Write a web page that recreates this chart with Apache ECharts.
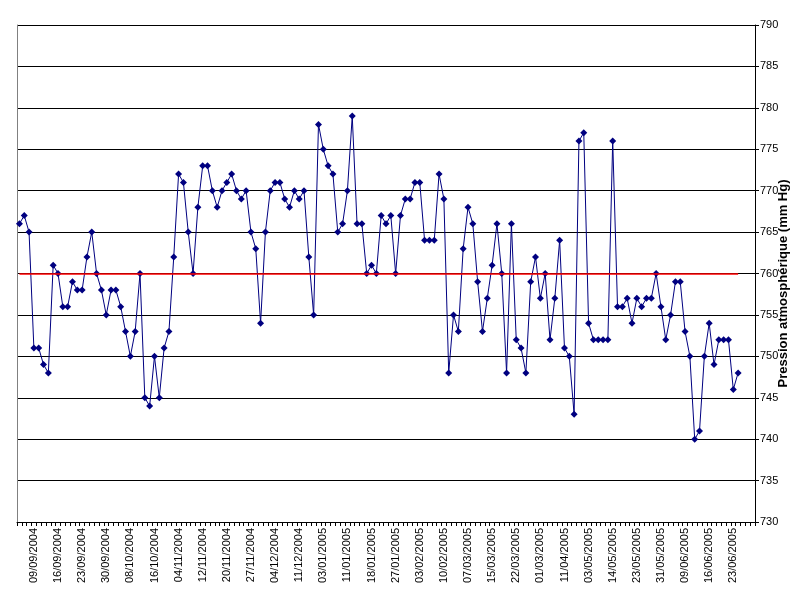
<!DOCTYPE html>
<html><head><meta charset="utf-8">
<script src="https://cdn.jsdelivr.net/npm/echarts@6/dist/echarts.min.js"></script>
<style>html,body{margin:0;padding:0;background:#fff}#c{width:800px;height:600px}</style>
</head><body><div id="c"></div>
<script>
const tickLabels = ['09/09/2004','16/09/2004','23/09/2004','30/09/2004','08/10/2004','16/10/2004','04/11/2004','12/11/2004','20/11/2004','27/11/2004','04/12/2004','11/12/2004','03/01/2005','11/01/2005','18/01/2005','27/01/2005','03/02/2005','10/02/2005','07/03/2005','15/03/2005','22/03/2005','01/03/2005','11/04/2005','03/05/2005','14/05/2005','23/05/2005','31/05/2005','09/06/2005','16/06/2005','23/06/2005'];
const pressure = [766,767,765,751,751,749,748,761,760,756,756,759,758,758,762,765,760,758,755,758,758,756,753,750,753,760,745,744,750,745,751,753,762,772,771,765,760,
768,773,773,770,768,770,771,772,770,769,770,765,763,754,765,770,771,771,769,768,770,769,770,762,755,778,775,773,772,765,766,770,779,766,766,760,761,
760,767,766,767,760,767,769,769,771,771,764,764,764,772,769,748,755,753,763,768,766,759,753,757,761,766,760,748,766,752,751,748,759,762,757,760,752,757,764,
751,750,743,776,777,754,752,752,752,752,776,756,756,757,754,757,756,757,757,760,756,752,755,759,759,753,750,740,741,750,754,749,752,752,752,746,748];
const categoryCount = 153;
const labelStart = 3, labelStep = 5;
const referenceValue = 760;
const yMin = 730, yMax = 790, yStep = 5;

const categories = [];
for (let i = 0; i < categoryCount; i++) {
  const k = (i - labelStart) / labelStep;
  categories.push(Number.isInteger(k) && k >= 0 && k < tickLabels.length ? tickLabels[k] : '');
}

const chart = echarts.init(document.getElementById('c'), null, {renderer: 'canvas'});
chart.setOption({
  animation: false,
  backgroundColor: '#fff',
  grid: {left: 17, right: 45, top: 25, bottom: 78, containLabel: false, outerBoundsMode: 'none'},
  xAxis: {
    type: 'category',
    data: categories,
    boundaryGap: true,
    axisLine: {lineStyle: {color: '#000', width: 1}},
    axisTick: {show: true, interval: 0, length: 4, lineStyle: {color: '#000'}},
    axisLabel: {interval: 0, rotate: 90, color: '#000', fontFamily: 'Arial, Liberation Sans', fontSize: 11, margin: 6},
    splitLine: {show: false}
  },
  yAxis: [{
    type: 'value',
    position: 'right',
    min: yMin, max: yMax, interval: yStep,
    name: 'Pression atmosphérique (mm Hg)',
    nameLocation: 'middle',
    nameRotate: 90,
    nameGap: 22,
    nameMoveOverlap: false,
    nameTextStyle: {color: '#000', fontWeight: 'bold', fontFamily: 'Arial, Liberation Sans', fontSize: 13, padding: [0, 20, 0, 0]},
    axisLine: {show: true, lineStyle: {color: '#000', width: 1}},
    axisTick: {show: true, length: 4, lineStyle: {color: '#000'}},
    axisLabel: {color: '#000', fontFamily: 'Arial, Liberation Sans', fontSize: 11, margin: 5},
    splitLine: {show: true, lineStyle: {color: '#000', width: 1}}
  }, {
    type: 'value',
    position: 'left',
    min: yMin, max: yMax, interval: yStep,
    axisLine: {show: true, lineStyle: {color: '#808080', width: 1}},
    axisTick: {show: false},
    axisLabel: {show: false},
    splitLine: {show: false}
  }],
  series: [{
    type: 'line',
    data: pressure,
    yAxisIndex: 0,
    symbol: 'diamond',
    symbolSize: 7,
    showSymbol: true,
    lineStyle: {color: '#000080', width: 1},
    itemStyle: {color: '#000080'},
    markLine: {
      silent: true,
      symbol: 'none',
      label: {show: false},
      lineStyle: {color: '#ff0000', width: 1.5, type: 'solid'},
      data: [[{xAxis: 0, yAxis: referenceValue}, {xAxis: pressure.length - 1, yAxis: referenceValue}]]
    }
  }]
});
</script>
</body></html>
